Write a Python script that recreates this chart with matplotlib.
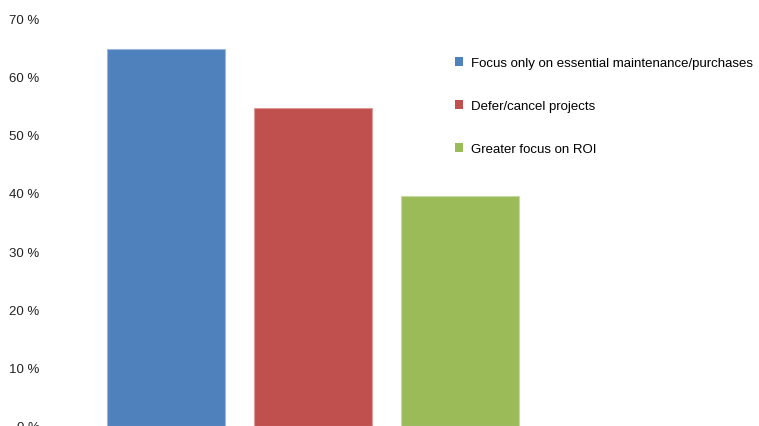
import matplotlib.pyplot as plt
from matplotlib.patches import Patch

# survey responses (share of respondents)
labels = ['Focus only on essential maintenance/purchases',
          'Defer/cancel projects',
          'Greater focus on ROI']
values = [64.6, 54.5, 39.4]
colors = ['#4F81BD', '#C0504D', '#9BBB59']
edges = ['#9DB7DA', '#DC9A98', '#C6DAA4']
yticks = [0, 10, 20, 30, 40, 50, 60, 70]

plt.rcParams['font.family'] = ['Liberation Sans', 'DejaVu Sans']

fig = plt.figure(figsize=(7.59, 4.27), dpi=100)
ax = fig.add_axes([45 / 759, 0, 515 / 759, 408 / 427])

x = range(len(values))
ax.bar(x, values, width=0.8, color=colors, edgecolor=edges, linewidth=0.8)

ax.set_xlim(-0.823, 2.68)
ax.set_ylim(0, 70)
ax.set_yticks(yticks)
ax.set_yticklabels([f'{t} %' for t in yticks], fontsize=9.5, color='#222222')
ax.set_xticks([])
ax.tick_params(axis='y', length=0, pad=4)
for s in ax.spines.values():
    s.set_visible(False)

handles = [Patch(facecolor=c, edgecolor='none') for c in colors]
fig.legend(handles, labels, loc='upper left', bbox_to_anchor=(455 / 759, 1 - 58 / 427),
           frameon=False, fontsize=9.5, handlelength=0.6, handleheight=0.6,
           handletextpad=0.6, labelspacing=2.35, borderaxespad=0, borderpad=0)

fig.savefig('out.png', dpi=100)
